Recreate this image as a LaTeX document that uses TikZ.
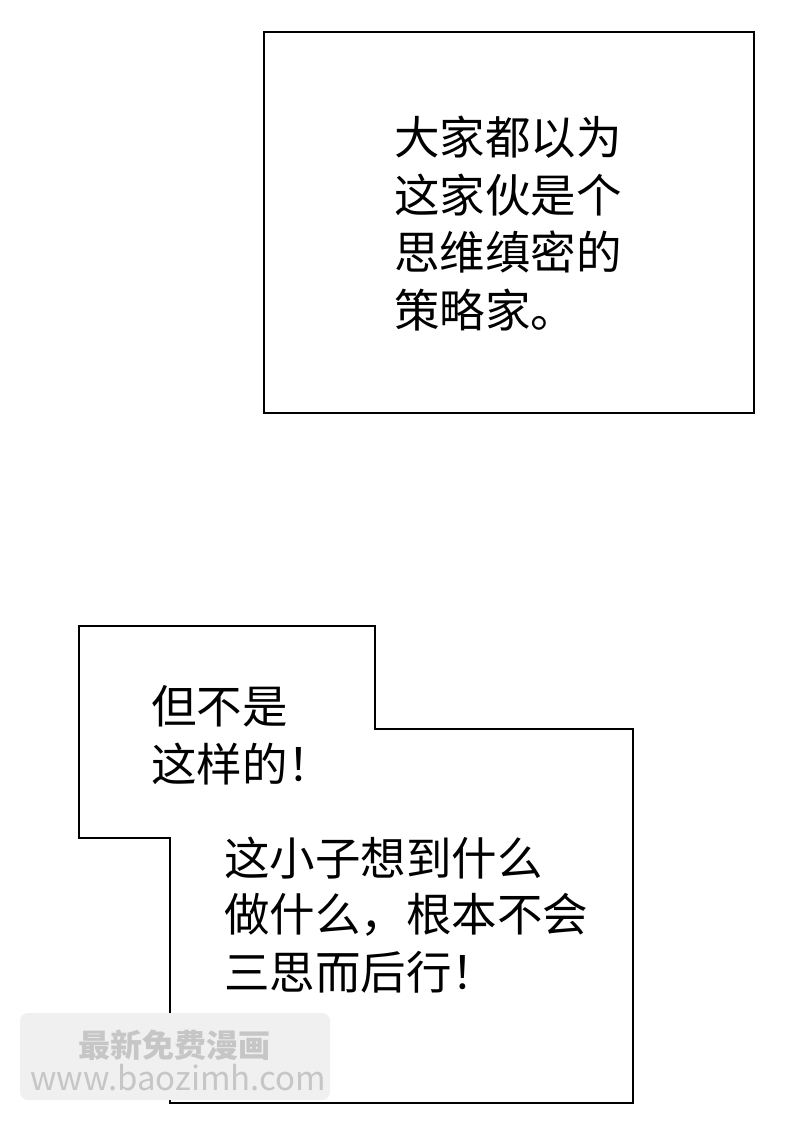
\documentclass[tikz,border=0pt]{standalone}
\usepackage{fontspec}
\newfontfamily\cjk{Noto Sans CJK SC}
\begin{document}
\begin{tikzpicture}[x=1pt,y=-1pt,
  box/.style={draw=black,line width=2pt},
  txt/.style={anchor=west,inner sep=0pt,font=\cjk\fontsize{45.5}{50}\selectfont}]
\useasboundingbox (0,0) rectangle (800,1123);
\fill[white] (0,0) rectangle (800,1123);
\draw[box] (264,32) rectangle (754,413);
\node[txt] (a1) at (394,137) {大家都以为};
\node[txt] (a2) at (394,195) {这家伙是个};
\node[txt] (a3) at (394,252) {思维缜密的};
\node[txt] (a4) at (394,310) {策略家。};
\draw[box] (79,626) -- (375,626) -- (375,729) -- (633,729) -- (633,1103) -- (170,1103) -- (170,838) -- (79,838) -- cycle;
\node[txt] (b1) at (151,706) {但不是};
\node[txt] (b2) at (151,764) {这样的！};
\node[txt] (c1) at (224,858) {这小子想到什么};
\node[txt] (c2) at (224,915) {做什么，根本不会};
\node[txt] (c3) at (224,972) {三思而后行！};
\fill[gray!12,rounded corners=8pt] (20,1013) rectangle (330,1100);
\node[anchor=west,inner sep=0pt,text=gray!45,font=\cjk\bfseries\fontsize{32}{34}\selectfont] (w1) at (78,1045) {最新免费漫画};
\node[anchor=west,inner sep=0pt,text=gray!45,font=\cjk\fontsize{33}{34}\selectfont] (w2) at (30,1078) {www.baozimh.com};
\end{tikzpicture}
\end{document}
